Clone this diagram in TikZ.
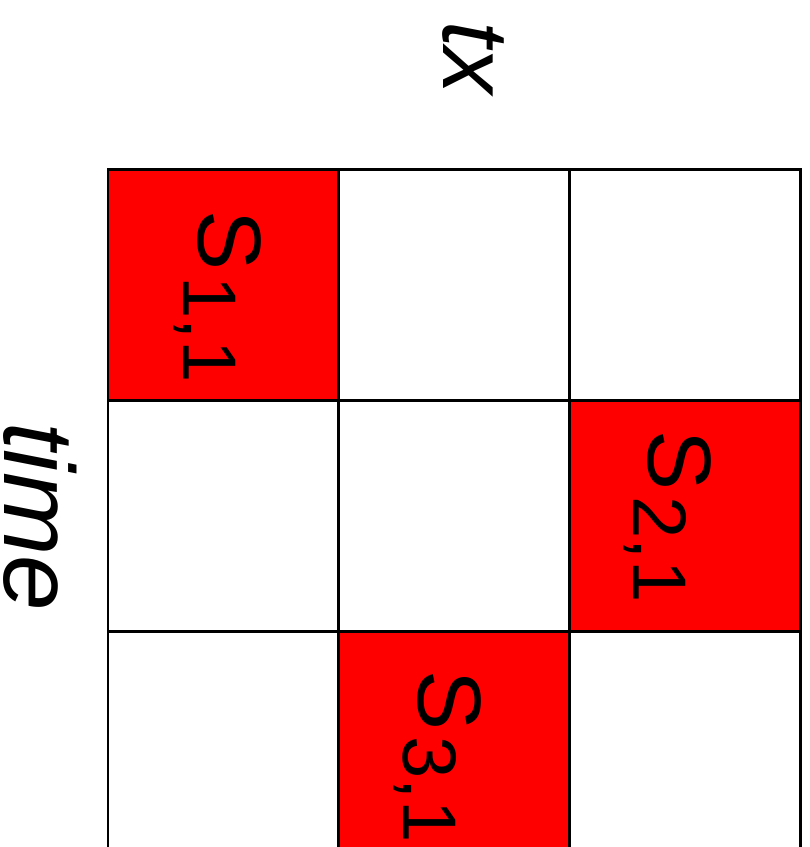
\documentclass[tikz,border=0pt]{standalone}
\usepackage{fontspec}
\setmainfont{Liberation Sans}
\definecolor{slotred}{HTML}{FF0000}
\newcommand{\slotcell}[2]{% column, row
	\fill[slotred] ({108+(#1-1)*230.8},{169.7+(#2-1)*230.8}) rectangle +(230.8,230.8);
}
\newcommand{\slotname}[2]{S\kern6pt\raisebox{-15pt}{\fontsize{76}{76}\selectfont #1,#2}}

\begin{document}
\begin{tikzpicture}[x=1pt,y=-1pt,
	axislabel/.style={rotate=-90, inner sep=0pt, font=\itshape\fontsize{96}{96}\selectfont},
	slotlabel/.style={rotate=-90, inner sep=0pt, anchor=base west, font=\fontsize{90}{90}\selectfont}]
	% Fixed canvas, grid runs past the lower edge.
	\path[use as bounding box] (0,0) rectangle (810,847);
	\fill[white] (0,0) rectangle (810,847);

	% Occupied slots.
	\slotcell{1}{1}
	\slotcell{3}{2}
	\slotcell{2}{3}

	% Grid.
	\foreach \i in {0,...,3} {
		\draw[line width=2.7pt, line cap=rect] ({108+\i*230.8},169.7) -- ({108+\i*230.8},862);
		\draw[line width=2.7pt, line cap=rect] (108,{169.7+\i*230.8}) -- (800.5,{169.7+\i*230.8});
	}

	% Axis labels.
	\node[axislabel, anchor=base, font=\itshape\fontsize{94}{94}\selectfont] (txlabel) at (443,58) {tx};
	\node[axislabel, anchor=base, font=\itshape\fontsize{100}{100}\selectfont] (timelabel) at (5,516.5) {time};

	% Slot labels.
	\node[slotlabel] (s11) at (198,210.5) {\slotname{1}{1}};
	\node[slotlabel] (s21) at (648,430.5) {\slotname{2}{1}};
	\node[slotlabel] (s31) at (418,670.5) {\slotname{3}{1}};
\end{tikzpicture}
\end{document}
